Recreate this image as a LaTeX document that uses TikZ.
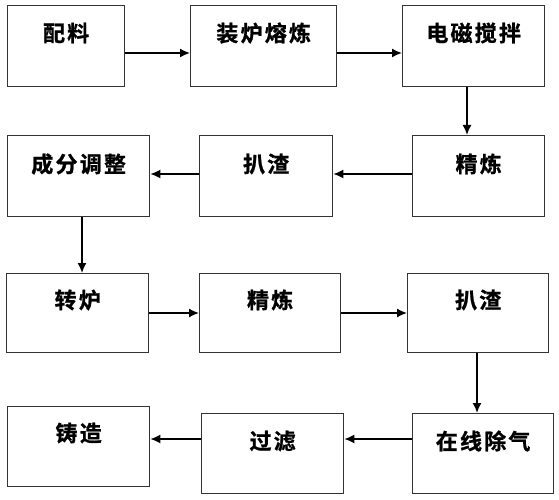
\documentclass[tikz,border=0pt]{standalone}
\usepackage{fontspec}
\newfontfamily\cjk{Noto Sans CJK SC Bold}[LetterSpace=10,FakeBold=1]
\usetikzlibrary{arrows.meta}
\tikzset{
  box/.style={draw=black!80, line width=1.3pt, anchor=north west, inner sep=0pt},
  lbl/.style={font=\cjk\fontsize{22}{22}\selectfont, inner sep=0pt},
  arr/.style={line width=1.6pt, -{Latex[length=10pt,width=9pt]}}
}
\newcommand{\bx}[5]{% name, x1,y1,x2,y2
  \node[box, minimum width={(#4-#2)*1pt}, minimum height={(#5-#3)*1pt}] (#1) at (#2,#3) {};
}
\begin{document}
\begin{tikzpicture}[x=1pt,y=-1pt]
\useasboundingbox (0,0) rectangle (559,500);
% row 1
\bx{a1}{7}{5}{124}{86}
\bx{a2}{190}{5}{336}{86}
\bx{a3}{402}{5}{544}{86}
\node[lbl] (t1) at (a1.north |- 0,33) {配料};
\node[lbl] (t2) at (a2.north |- 0,33) {装炉熔炼};
\node[lbl] (t3) at (a3.north |- 0,33) {电磁搅拌};
% row 2
\bx{b1}{7}{135}{149}{216}
\bx{b2}{199}{135}{332}{216}
\bx{b3}{412}{135}{544}{216}
\node[lbl] (t4) at (b1.north |- 0,164) {成分调整};
\node[lbl] (t5) at (b2.north |- 0,164) {扒渣};
\node[lbl] (t6) at (b3.north |- 0,164) {精炼};
% row 3
\bx{c1}{6}{273}{148}{352}
\bx{c2}{199}{273}{340}{352}
\bx{c3}{407}{273}{548}{352}
\node[lbl] (t7) at (c1.north |- 0,300) {转炉};
\node[lbl] (t8) at (c2.north |- 0,300) {精炼};
\node[lbl] (t9) at (c3.north |- 0,300) {扒渣};
% row 4
\bx{d1}{7}{406}{149}{486}
\bx{d2}{201}{413}{343}{493}
\bx{d3}{412}{413}{553}{493}
\node[lbl] (t10) at (d1.north |- 0,433) {铸造};
\node[lbl] (t11) at (d2.north |- 0,441) {过滤};
\node[lbl] (t12) at (d3.north |- 0,441) {在线除气};
% arrows
\draw[arr] (a1.east |- 0,53) -- (a2.west |- 0,53);
\draw[arr] (a2.east |- 0,53) -- (a3.west |- 0,53);
\draw[arr] (a3.south -| 467,0) -- (b3.north -| 467,0);
\draw[arr] (b3.west |- 0,174) -- (b2.east |- 0,174);
\draw[arr] (b2.west |- 0,174) -- (b1.east |- 0,174);
\draw[arr] (b1.south -| 82,0) -- (c1.north -| 82,0);
\draw[arr] (c1.east |- 0,313) -- (c2.west |- 0,313);
\draw[arr] (c2.east |- 0,313) -- (c3.west |- 0,313);
\draw[arr] (c3.south -| 477,0) -- (d3.north -| 477,0);
\draw[arr] (d3.west |- 0,439) -- (d2.east |- 0,439);
\draw[arr] (d2.west |- 0,439) -- (d1.east |- 0,439);
\end{tikzpicture}
\end{document}
